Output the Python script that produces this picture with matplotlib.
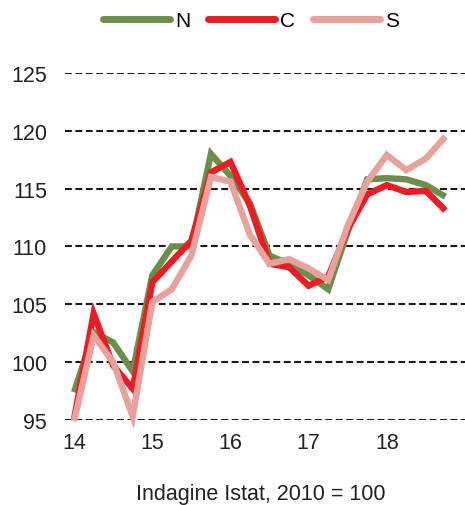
import numpy as np
import matplotlib.pyplot as plt
from matplotlib.lines import Line2D

plt.rcParams["font.family"] = ["Liberation Sans", "DejaVu Sans"]

# quarterly observations, 2014Q1 .. 2018Q4
quarters = [14 + i * 0.25 for i in range(20)]
nord = [97.4, 102.6, 101.7, 99.2, 107.5, 110.0, 110.0, 118.0, 116.1, 113.7,
        109.2, 108.5, 107.5, 106.3, 111.3, 115.8, 115.9, 115.8, 115.3, 114.3]
centro = [95.1, 104.2, 99.7, 97.7, 106.9, 108.7, 110.5, 116.4, 117.3, 113.5,
          108.5, 108.2, 106.6, 107.4, 111.5, 114.5, 115.3, 114.7, 114.8, 113.1]
sud = [94.9, 102.3, 100.0, 95.3, 105.2, 106.3, 109.2, 116.0, 115.6, 111.0,
       108.5, 108.9, 108.1, 107.1, 111.8, 115.6, 117.9, 116.6, 117.6, 119.5]

series = [("N", nord, "#6a8f4a"), ("C", centro, "#ed1c24"), ("S", sud, "#e8a19b")]
yticks = [95, 100, 105, 110, 115, 120, 125]
xticks = [14, 15, 16, 17, 18]

fig = plt.figure(figsize=(4.65, 5.06), dpi=100)
ax = fig.add_axes([0.14, 0.168, 0.86, 0.686])

for y in yticks:
    ax.axhline(y, color="#1a1a1a", lw=1.5, ls=(0, (3.3, 1.7)), zorder=1)

for name, vals, col in series:
    ax.plot(quarters, vals, color=col, lw=4.6, solid_joinstyle="miter",
            solid_capstyle="butt", clip_on=False, zorder=3)

ax.set_xlim(13.885, 19.0)
ax.set_ylim(95, 125)
ax.set_yticks(yticks)
ax.set_xticks(xticks)
ax.set_xticklabels([str(x) for x in xticks])
ax.tick_params(length=0, labelsize=15.5, colors="#222222")
ax.tick_params(axis="y", pad=13)
ax.tick_params(axis="x", pad=9)
for s in ax.spines.values():
    s.set_visible(False)

fig.text(0.56, 1 - 495 / 506, "Indagine Istat, 2010 = 100", fontsize=15.5,
         color="#222222", ha="center", va="center")

handles = [Line2D([], [], color=c, lw=5, solid_capstyle="round") for _, _, c in series]
fig.legend(handles, [n for n, _, _ in series], loc="center",
           bbox_to_anchor=(0.54, 0.957), ncol=3, frameon=False,
           fontsize=15, handlelength=3.2, handletextpad=0.25,
           columnspacing=0.85)

fig.savefig("out.png", dpi=100)
